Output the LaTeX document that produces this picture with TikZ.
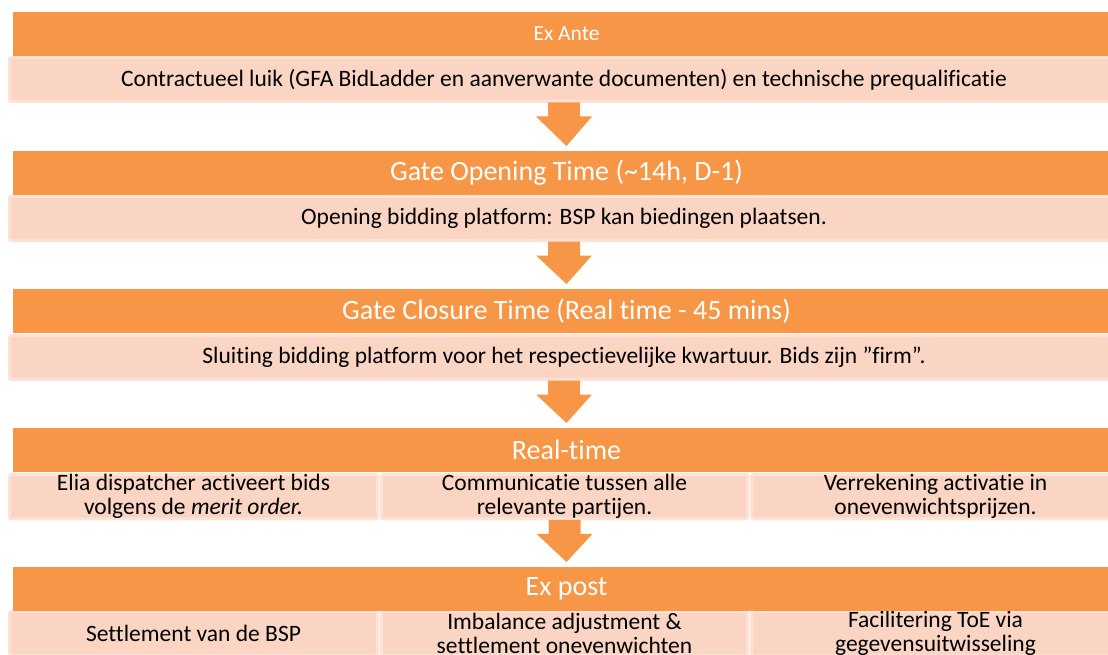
\documentclass[tikz,border=0pt]{standalone}
\usepackage{fontspec}
\setmainfont{Carlito}[Ligatures=ResetAll, RawFeature={-liga;-clig;-calt;-dlig}]
\usetikzlibrary{calc}
\definecolor{barorange}{HTML}{F79646}
\definecolor{pinkfill}{HTML}{FBD5C3}
\definecolor{pinkedge}{HTML}{FDE2D5}
\tikzset{
  x=1pt, y=-1pt,
  bar/.style={fill=barorange, text=white, anchor=north west, minimum height=44pt,
    inner sep=0pt, outer sep=0pt, font=\fontsize{28}{30}\selectfont},
  smallbar/.style={bar, font=\fontsize{21.5}{24}\selectfont},
  pinkbox/.style={fill=pinkfill, draw=pinkedge, line width=3pt, rounded corners=2pt,
    anchor=north west, minimum height=44pt, inner sep=0pt, outer sep=0pt,
    text=black, font=\fontsize{23.5}{24}\selectfont, align=center},
  blockarrow/.style={fill=barorange}
}
\begin{document}
\begin{tikzpicture}
\useasboundingbox (0,0) rectangle (1108,655);
\clip (0,0) rectangle (1108,655);
% level 1
\node[pinkbox, minimum width=1109pt] (p1) at (9.5,57.5) {Contractueel luik (GFA BidLadder en aanverwante documenten) en technische prequalificatie};
\node[smallbar, minimum width=1107pt] (b1) at (13,12) {Ex Ante};
% level 2
\node[pinkbox, minimum width=1109pt] (p2) at (9.5,196.5) {Opening bidding platform: BSP kan biedingen plaatsen.};
\node[bar, minimum width=1107pt] (b2) at (13,151) {Gate Opening Time (\char`\~14h, D-1)};
% level 3
\node[pinkbox, minimum width=1109pt] (p3) at (9.5,335.5) {Sluiting bidding platform voor het respectievelijke kwartuur. Bids zijn \char34 firm\char34 .};
\node[bar, minimum width=1107pt] (b3) at (13,289) {Gate Closure Time (Real time - 45 mins)};
% level 4
\node[pinkbox, minimum width=368pt] (r1) at (9.5,474.5) {Elia dispatcher activeert bids\\volgens de \textit{merit order.}};
\node[pinkbox, minimum width=366pt] (r2) at (381.5,474.5) {Communicatie tussen alle\\relevante partijen.};
\node[pinkbox, minimum width=368pt] (r3) at (751.5,474.5) {Verrekening activatie in\\onevenwichtsprijzen.};
\node[bar, minimum width=1107pt] (b4) at (13,428) {Real-time};
% level 5
\node[pinkbox, minimum width=368pt] (s1) at (9.5,611.5) {Settlement van de BSP};
\node[pinkbox, minimum width=366pt] (s2) at (381.5,611.5) {Imbalance adjustment \&\\settlement onevenwichten};
\node[pinkbox, minimum width=368pt] (s3) at (751.5,611.5) {Facilitering ToE via\\gegevensuitwisseling};
\node[bar, minimum width=1107pt] (b5) at (13,567) {Ex post};
% block arrows
\foreach \a/\b in {p1/b2, p2/b3, p3/b4, r2/b5} {
  \fill[blockarrow]
    ($(\a.south)+(-16,1)$) -- ($(\a.south)+(16,1)$) -- ($(\a.south)+(16,15)$)
    -- ($(\a.south)+(28,15)$) -- ($(\b.north)+(0,-5)$) -- ($(\a.south)+(-28,15)$)
    -- ($(\a.south)+(-16,15)$) -- cycle;
}
\end{tikzpicture}
\end{document}
